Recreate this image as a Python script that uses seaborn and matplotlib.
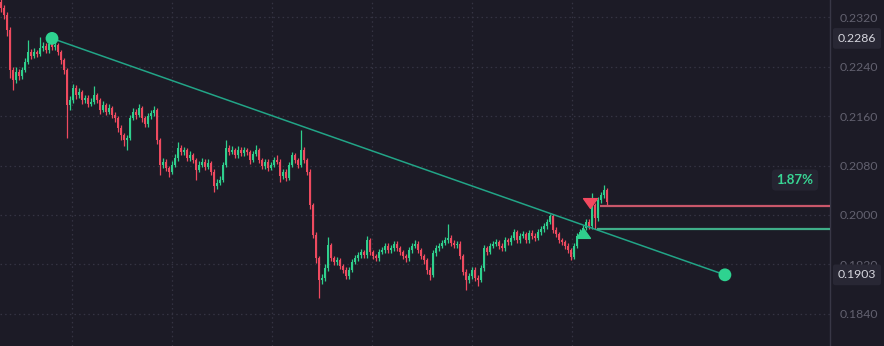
import numpy as np
import pandas as pd
import matplotlib
matplotlib.use("Agg")
import matplotlib.pyplot as plt
import matplotlib.transforms as mtransforms
from matplotlib.path import Path
import seaborn as sns

# ---------------- data ----------------
first_open = 0.2345
closes = [
    0.2335, 0.2324, 0.2300, 0.2235, 0.2219, 0.2232, 0.2225, 0.2235, 0.2248, 0.2264,
    0.2258, 0.2264, 0.2261, 0.2270, 0.2274, 0.2267, 0.2277, 0.2272, 0.2275, 0.2264,
    0.2251, 0.2235, 0.2178, 0.2186, 0.2206, 0.2194, 0.2199, 0.2186, 0.2189, 0.2180,
    0.2183, 0.2194, 0.2186, 0.2170, 0.2178, 0.2167, 0.2173, 0.2162, 0.2157, 0.2141,
    0.2129, 0.2121, 0.2125, 0.2157, 0.2167, 0.2162, 0.2173, 0.2157, 0.2147, 0.2160,
    0.2165, 0.2170, 0.2121, 0.2081, 0.2086, 0.2076, 0.2070, 0.2081, 0.2092, 0.2108,
    0.2102, 0.2105, 0.2092, 0.2097, 0.2089, 0.2073, 0.2081, 0.2086, 0.2078, 0.2084,
    0.2070, 0.2047, 0.2052, 0.2057, 0.2081, 0.2108, 0.2102, 0.2105, 0.2097, 0.2105,
    0.2100, 0.2105, 0.2102, 0.2089, 0.2099, 0.2105, 0.2089, 0.2079, 0.2086, 0.2076,
    0.2081, 0.2089, 0.2086, 0.2063, 0.2070, 0.2060, 0.2081, 0.2097, 0.2089, 0.2081,
    0.2105, 0.2089, 0.2070, 0.2016, 0.1968, 0.1930, 0.1895, 0.1898, 0.1914, 0.1951,
    0.1930, 0.1924, 0.1927, 0.1917, 0.1911, 0.1901, 0.1911, 0.1924, 0.1930, 0.1935,
    0.1940, 0.1935, 0.1959, 0.1940, 0.1933, 0.1930, 0.1940, 0.1943, 0.1950, 0.1943,
    0.1946, 0.1953, 0.1946, 0.1940, 0.1933, 0.1930, 0.1943, 0.1950, 0.1953, 0.1943,
    0.1933, 0.1927, 0.1911, 0.1903, 0.1938, 0.1946, 0.1950, 0.1955, 0.1959, 0.1963,
    0.1955, 0.1951, 0.1953, 0.1933, 0.1908, 0.1895, 0.1901, 0.1911, 0.1898, 0.1895,
    0.1914, 0.1946, 0.1940, 0.1950, 0.1953, 0.1956, 0.1950, 0.1946, 0.1959, 0.1956,
    0.1963, 0.1972, 0.1959, 0.1966, 0.1969, 0.1959, 0.1971, 0.1966, 0.1963, 0.1972,
    0.1977, 0.1982, 0.1989, 0.1998, 0.1976, 0.1969, 0.1959, 0.1956, 0.1950, 0.1943,
    0.1932, 0.1950, 0.1966, 0.1972, 0.1979, 0.1989, 0.1982, 0.2016, 0.1995, 0.2024,
    0.2032, 0.2040, 0.2021,
]
highs = [
    0.2362, 0.2340, 0.2328, 0.2304, 0.2240, 0.2240, 0.2237, 0.2240, 0.2254, 0.2283,
    0.2269, 0.2270, 0.2268, 0.2288, 0.2280, 0.2279, 0.2283, 0.2282, 0.2281, 0.2279,
    0.2268, 0.2255, 0.2238, 0.2192, 0.2212, 0.2210, 0.2205, 0.2203, 0.2195, 0.2194,
    0.2189, 0.2209, 0.2198, 0.2190, 0.2184, 0.2182, 0.2179, 0.2177, 0.2166, 0.2161,
    0.2145, 0.2133, 0.2130, 0.2162, 0.2173, 0.2171, 0.2180, 0.2176, 0.2161, 0.2165,
    0.2170, 0.2176, 0.2173, 0.2125, 0.2092, 0.2090, 0.2080, 0.2087, 0.2098, 0.2118,
    0.2113, 0.2110, 0.2109, 0.2103, 0.2101, 0.2093, 0.2087, 0.2092, 0.2090, 0.2090,
    0.2088, 0.2074, 0.2058, 0.2063, 0.2086, 0.2121, 0.2113, 0.2111, 0.2109, 0.2111,
    0.2110, 0.2110, 0.2109, 0.2106, 0.2104, 0.2113, 0.2108, 0.2093, 0.2091, 0.2090,
    0.2086, 0.2094, 0.2097, 0.2090, 0.2075, 0.2074, 0.2086, 0.2102, 0.2101, 0.2093,
    0.2138, 0.2110, 0.2093, 0.2074, 0.2020, 0.1972, 0.1934, 0.1905, 0.1920, 0.1964,
    0.1955, 0.1934, 0.1932, 0.1931, 0.1921, 0.1915, 0.1916, 0.1929, 0.1935, 0.1940,
    0.1945, 0.1944, 0.1966, 0.1962, 0.1944, 0.1937, 0.1945, 0.1948, 0.1955, 0.1954,
    0.1951, 0.1958, 0.1957, 0.1950, 0.1944, 0.1937, 0.1948, 0.1955, 0.1959, 0.1957,
    0.1947, 0.1937, 0.1931, 0.1915, 0.1943, 0.1951, 0.1955, 0.1960, 0.1964, 0.1985,
    0.1967, 0.1959, 0.1958, 0.1957, 0.1937, 0.1912, 0.1906, 0.1916, 0.1915, 0.1902,
    0.1919, 0.1951, 0.1950, 0.1955, 0.1958, 0.1961, 0.1960, 0.1954, 0.1964, 0.1963,
    0.1968, 0.1977, 0.1976, 0.1971, 0.1974, 0.1973, 0.1976, 0.1975, 0.1970, 0.1977,
    0.1982, 0.1987, 0.1994, 0.2002, 0.2001, 0.1980, 0.1973, 0.1963, 0.1960, 0.1954,
    0.1947, 0.1955, 0.1971, 0.1977, 0.1984, 0.1994, 0.1993, 0.2036, 0.2020, 0.2029,
    0.2037, 0.2048, 0.2044,
]
lows = [
    0.2328, 0.2318, 0.2290, 0.2222, 0.2203, 0.2213, 0.2219, 0.2220, 0.2231, 0.2244,
    0.2252, 0.2254, 0.2256, 0.2257, 0.2266, 0.2262, 0.2263, 0.2267, 0.2267, 0.2259,
    0.2245, 0.2228, 0.2125, 0.2170, 0.2182, 0.2188, 0.2189, 0.2180, 0.2181, 0.2175,
    0.2176, 0.2179, 0.2181, 0.2164, 0.2166, 0.2162, 0.2163, 0.2157, 0.2151, 0.2135,
    0.2122, 0.2112, 0.2105, 0.2121, 0.2153, 0.2156, 0.2158, 0.2151, 0.2142, 0.2143,
    0.2156, 0.2161, 0.2115, 0.2065, 0.2076, 0.2071, 0.2061, 0.2066, 0.2077, 0.2088,
    0.2097, 0.2097, 0.2087, 0.2088, 0.2084, 0.2057, 0.2069, 0.2077, 0.2073, 0.2074,
    0.2065, 0.2037, 0.2042, 0.2048, 0.2053, 0.2077, 0.2097, 0.2098, 0.2092, 0.2093,
    0.2095, 0.2096, 0.2097, 0.2083, 0.2085, 0.2095, 0.2084, 0.2074, 0.2075, 0.2071,
    0.2072, 0.2077, 0.2082, 0.2053, 0.2058, 0.2055, 0.2056, 0.2077, 0.2084, 0.2076,
    0.2077, 0.2084, 0.2065, 0.2010, 0.1962, 0.1922, 0.1866, 0.1888, 0.1893, 0.1910,
    0.1925, 0.1919, 0.1919, 0.1912, 0.1906, 0.1896, 0.1897, 0.1907, 0.1920, 0.1926,
    0.1931, 0.1930, 0.1931, 0.1935, 0.1928, 0.1925, 0.1926, 0.1936, 0.1939, 0.1938,
    0.1939, 0.1942, 0.1941, 0.1935, 0.1928, 0.1924, 0.1926, 0.1939, 0.1946, 0.1938,
    0.1928, 0.1921, 0.1905, 0.1895, 0.1899, 0.1934, 0.1942, 0.1946, 0.1951, 0.1955,
    0.1950, 0.1946, 0.1947, 0.1928, 0.1902, 0.1878, 0.1890, 0.1897, 0.1893, 0.1885,
    0.1891, 0.1910, 0.1935, 0.1936, 0.1946, 0.1949, 0.1945, 0.1941, 0.1942, 0.1951,
    0.1952, 0.1959, 0.1954, 0.1955, 0.1962, 0.1954, 0.1955, 0.1961, 0.1958, 0.1959,
    0.1968, 0.1973, 0.1978, 0.1985, 0.1971, 0.1964, 0.1954, 0.1951, 0.1945, 0.1938,
    0.1927, 0.1928, 0.1946, 0.1962, 0.1968, 0.1975, 0.1977, 0.1978, 0.1977, 0.1991,
    0.2020, 0.2028, 0.2016,
]

price_ticks = [0.2320, 0.2240, 0.2160, 0.2080, 0.2000, 0.1920, 0.1840]
tick_labels = ["0.2320", "0.2240", "0.2160", "0.2080", "0.2000", "0.1920", "0.1840"]

trend_x = [17.0, 241.3]
trend_y = [0.2286, 0.1903]
trend_labels = ["0.2286", "0.1903"]

sell_level = 0.2015
buy_level = 0.1978
level_start = [199.5, 198.5]
sell_mark = (196.3, 0.2019)
buy_mark = (194.0, 0.1971)
pct_text = "1.87%"

# ---------------- style ----------------
BG = "#1c1b26"
GREEN = "#2fcf8d"
RED = "#ee4a5f"
GRID = "#353443"
AXTXT = "#62616f"

sns.set_theme(style="dark", rc={
    "axes.facecolor": BG, "figure.facecolor": BG,
    "axes.edgecolor": BG, "grid.color": GRID,
})
plt.rcParams["font.family"] = ["Lato", "DejaVu Sans"]

W, H = 884, 346
fig = plt.figure(figsize=(W / 100, H / 100), dpi=100)
ax = fig.add_axes([0, 0, 830 / W, 1])

df = pd.DataFrame({"close": closes, "high": highs, "low": lows})
df["open"] = [first_open] + closes[:-1]
df["idx"] = np.arange(len(df))
df["up"] = df["close"] >= df["open"]
df["color"] = np.where(df["up"], GREEN, RED)
df["bottom"] = df[["open", "close"]].min(axis=1)
df["height"] = (df["close"] - df["open"]).abs().clip(lower=0.00008)

ax.vlines(df["idx"], df["low"], df["high"], colors=df["color"], lw=0.9, zorder=3)
ax.bar(df["idx"], df["height"], bottom=df["bottom"], width=0.72,
       color=df["color"], edgecolor="none", zorder=3)

# trend line + endpoints
tl = pd.DataFrame({"x": trend_x, "y": trend_y})
sns.lineplot(data=tl, x="x", y="y", ax=ax, color="#22a587", lw=1.1, zorder=4)
sns.scatterplot(data=tl, x="x", y="y", ax=ax, color="#2ed390", s=85,
                edgecolor="none", zorder=5)

# level lines
xmax = 276.33
ax.hlines(sell_level, level_start[0], xmax, color="#c9576a", lw=1.6, zorder=4)
ax.hlines(buy_level, level_start[1], xmax, color="#3fae88", lw=1.6, zorder=4)

tri_down = Path([(-1, 0.7), (1, 0.7), (0, -0.7), (-1, 0.7)],
                [Path.MOVETO, Path.LINETO, Path.LINETO, Path.CLOSEPOLY])
tri_up = Path([(-1, -0.7), (1, -0.7), (0, 0.7), (-1, -0.7)],
              [Path.MOVETO, Path.LINETO, Path.LINETO, Path.CLOSEPOLY])
ax.plot([sell_mark[0]], [sell_mark[1]], marker=tri_down, ms=10, color="#f2495f",
        ls="none", zorder=6)
ax.plot([buy_mark[0]], [buy_mark[1]], marker=tri_up, ms=10, color=GREEN,
        ls="none", zorder=6)

# percentage label
ax.text(795 / 830, 1 - 180 / H, pct_text, transform=ax.transAxes,
        ha="center", va="center", color="#38d594", fontsize=9.5,
        fontweight="bold", zorder=7,
        bbox=dict(boxstyle="round,pad=0.35,rounding_size=0.3",
                  fc="#252431", ec="none"))

# axes limits/grid
ax.set_xlim(-0.333, xmax)
ax.set_ylim(0.17877, 0.23482)
ax.set_xticks([23.67, 57.0, 90.33, 123.67, 157.0, 190.33])
ax.set_xticklabels([])
ax.set_yticks(price_ticks)
ax.set_yticklabels(tick_labels)
ax.grid(True, linestyle=(0, (1.2, 2.5)), color=GRID, lw=0.9)
ax.set_axisbelow(True)
ax.set_xlabel("")
ax.set_ylabel("")
ax.tick_params(axis="x", length=0, bottom=False, labelbottom=False)
ax.yaxis.tick_right()
ax.tick_params(axis="y", length=0, pad=7, labelsize=8.8, labelcolor=AXTXT)
for s in ["top", "left", "bottom"]:
    ax.spines[s].set_visible(False)
ax.spines["right"].set_visible(True)
ax.spines["right"].set_color("#383746")
ax.spines["right"].set_linewidth(1.0)
if ax.get_legend():
    ax.get_legend().remove()

# price badges on axis
trans = mtransforms.blended_transform_factory(ax.transAxes, ax.transData)
for v, lab in zip(trend_y, trend_labels):
    ax.text(857 / 830, v, lab, transform=trans, ha="center", va="center",
            color="#d6d6de", fontsize=8.8, zorder=10, clip_on=False,
            bbox=dict(boxstyle="round,pad=0.4,rounding_size=0.2",
                      fc="#282734", ec="none"))

fig.savefig("out.png", dpi=100, facecolor=BG)
